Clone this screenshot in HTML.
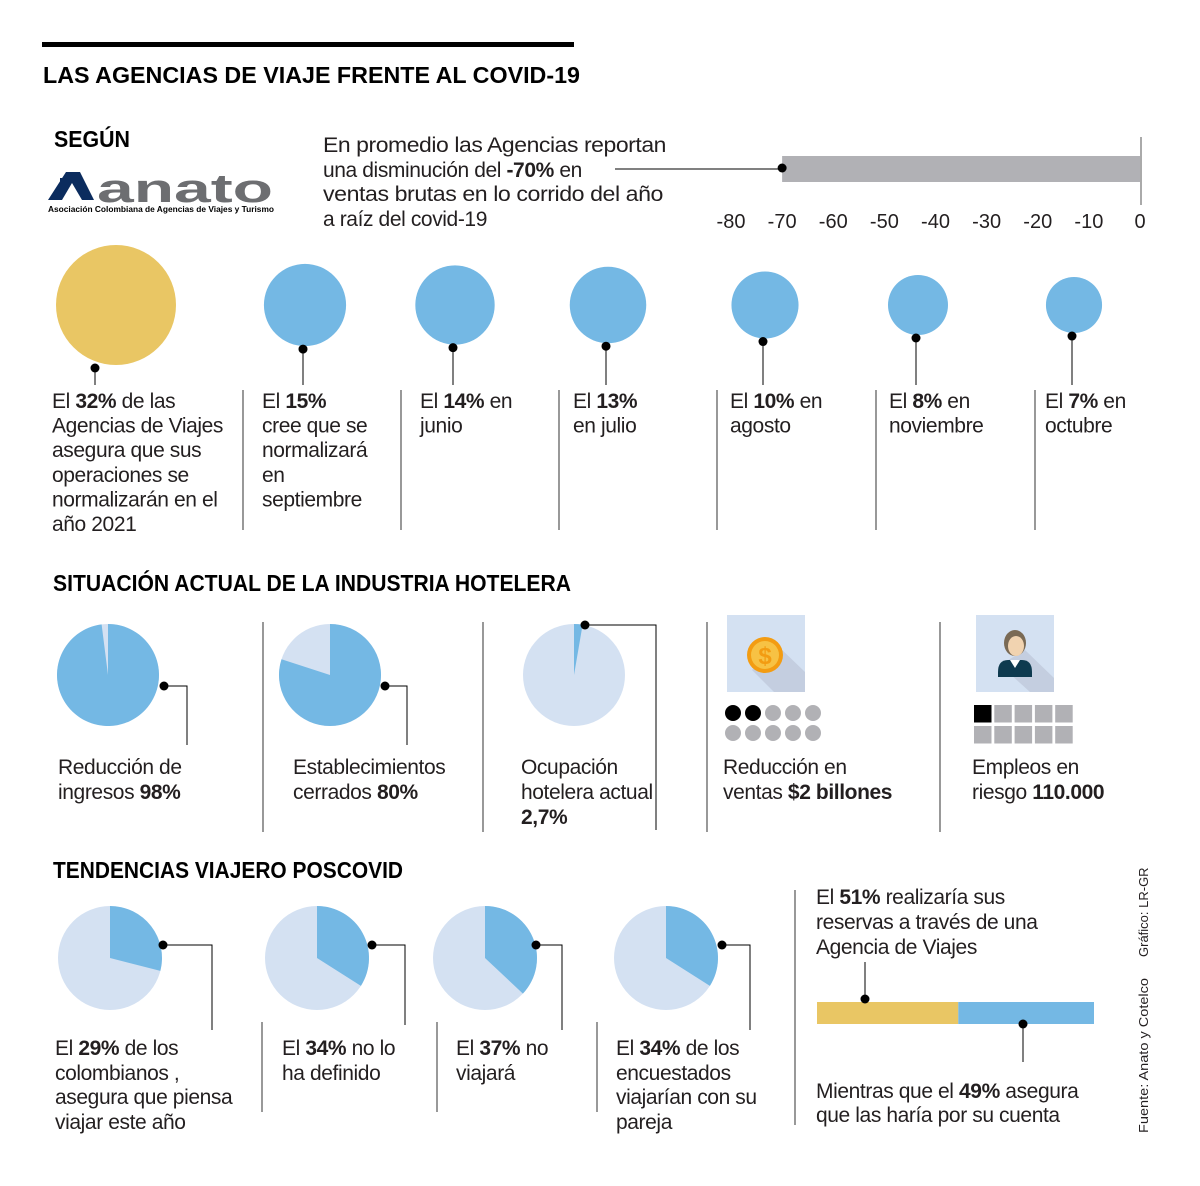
<!DOCTYPE html>
<html><head><meta charset="utf-8">
<style>
html,body{margin:0;padding:0;background:#fff;}
svg{display:block;font-family:"Liberation Sans",sans-serif;}
.t{font-size:21px;fill:#231f20;letter-spacing:-0.4px;}
.h{font-size:23px;font-weight:bold;fill:#000;}
.tk{font-size:20px;fill:#231f20;}
</style></head>
<body>
<svg id="chart" width="1200" height="1186" viewBox="0 0 1200 1186">
<rect x="42" y="42" width="532" height="5" fill="#000"/>
<text x="43" y="83" class="h" textLength="537" lengthAdjust="spacingAndGlyphs">LAS AGENCIAS DE VIAJE FRENTE AL COVID-19</text>
<text x="54" y="147" class="h" textLength="76" lengthAdjust="spacingAndGlyphs">SEGÚN</text>
<g>
<polygon points="48,200 66,172 80,172 94,200 82,200 72,183 62,200" fill="#0b2c5e"/>
<rect x="60" y="178" width="8" height="5" fill="#0b2c5e"/>
<text x="97" y="202" font-size="40" font-weight="bold" fill="#6d6e71" textLength="176" lengthAdjust="spacingAndGlyphs">anato</text>
<text x="48" y="212" font-size="8" font-weight="bold" fill="#000" textLength="226" lengthAdjust="spacingAndGlyphs">Asociación Colombiana de Agencias de Viajes y Turismo</text>
</g>
<g>
<text x="323" y="152" class="t" textLength="343" lengthAdjust="spacingAndGlyphs">En promedio las Agencias reportan</text>
<text x="323" y="177" class="t">una disminución del <tspan font-weight="bold">-70%</tspan> en</text>
<text x="323" y="201" class="t" textLength="340" lengthAdjust="spacingAndGlyphs">ventas brutas en lo corrido del año</text>
<text x="323" y="226" class="t">a raíz del covid-19</text>
</g>
<g id="barChart"></g>
<g id="circles"></g>
<text x="53" y="591" class="h" textLength="518" lengthAdjust="spacingAndGlyphs">SITUACIÓN ACTUAL DE LA INDUSTRIA HOTELERA</text>
<g id="hotelPies"></g>
<g stroke="#555" stroke-width="1.2">
<line x1="263" y1="622" x2="263" y2="832"/><line x1="483" y1="622" x2="483" y2="832"/>
<line x1="707" y1="622" x2="707" y2="832"/><line x1="940" y1="622" x2="940" y2="832"/>
</g>
<g>
<rect x="727" y="615" width="78" height="77" fill="#d4e1f2"/>
<polygon points="752,670 777,645 805,672 805,692 774,692" fill="#c4cee0"/>
<circle cx="765" cy="655" r="18" fill="#f39c12"/><circle cx="765" cy="655" r="14" fill="#f7c244"/>
<text x="765" y="664" font-size="24" font-weight="bold" fill="#f39c12" text-anchor="middle">$</text>
</g>
<g id="moneyDots"></g>
<g>
<rect x="976" y="615" width="78" height="77" fill="#d4e1f2"/>
<polygon points="1025,650 1054,678 1054,692 1030,692 1000,665" fill="#c4cee0"/>
<path d="M998,672 q0,-12 10,-12 h14 q10,0 10,12 v5 h-34z" fill="#0e3a4f"/>
<ellipse cx="1015" cy="643" rx="11" ry="13" fill="#7a6a55"/>
<ellipse cx="1016" cy="646" rx="8" ry="10" fill="#f1d3b0"/>
<polygon points="1010,660 1015,668 1020,660" fill="#fff"/>
</g>
<g id="jobSquares"></g>
<g>
<text x="58" y="774" class="t">Reducción de</text><text x="58" y="799" class="t">ingresos <tspan font-weight="bold">98%</tspan></text>
<text x="293" y="774" class="t">Establecimientos</text><text x="293" y="799" class="t">cerrados <tspan font-weight="bold">80%</tspan></text>
<text x="521" y="774" class="t">Ocupación</text><text x="521" y="799" class="t">hotelera actual</text><text x="521" y="824" class="t" font-weight="bold">2,7%</text>
<text x="723" y="774" class="t">Reducción en</text><text x="723" y="799" class="t">ventas <tspan font-weight="bold">$2 billones</tspan></text>
<text x="972" y="774" class="t">Empleos en</text><text x="972" y="799" class="t">riesgo <tspan font-weight="bold">110.000</tspan></text>
</g>
<text x="53" y="878" class="h" textLength="350" lengthAdjust="spacingAndGlyphs">TENDENCIAS VIAJERO POSCOVID</text>
<g id="travelPies"></g>
<g stroke="#555" stroke-width="1.2">
<line x1="262" y1="1022" x2="262" y2="1112"/><line x1="437" y1="1022" x2="437" y2="1112"/>
<line x1="597" y1="1022" x2="597" y2="1112"/><line x1="795" y1="890" x2="795" y2="1125"/>
</g>
<g>
<text x="55" y="1055" class="t">El <tspan font-weight="bold">29%</tspan> de los</text><text x="55" y="1080" class="t">colombianos ,</text><text x="55" y="1104" class="t">asegura que piensa</text><text x="55" y="1129" class="t">viajar este año</text>
<text x="282" y="1055" class="t">El <tspan font-weight="bold">34%</tspan> no lo</text><text x="282" y="1080" class="t">ha definido</text>
<text x="456" y="1055" class="t">El <tspan font-weight="bold">37%</tspan> no</text><text x="456" y="1080" class="t">viajará</text>
<text x="616" y="1055" class="t">El <tspan font-weight="bold">34%</tspan> de los</text><text x="616" y="1080" class="t">encuestados</text><text x="616" y="1104" class="t">viajarían con su</text><text x="616" y="1129" class="t">pareja</text>
<text x="816" y="904" class="t">El <tspan font-weight="bold">51%</tspan> realizaría sus</text><text x="816" y="929" class="t">reservas a través de una</text><text x="816" y="954" class="t">Agencia de Viajes</text>
<text x="816" y="1098" class="t">Mientras que el <tspan font-weight="bold">49%</tspan> asegura</text><text x="816" y="1122" class="t">que las haría por su cuenta</text>
</g>
<g id="stackBar"></g>
<text transform="translate(1148,957) rotate(-90)" font-size="13" fill="#231f20">Gráfico: LR-GR</text>
<text transform="translate(1148,1133) rotate(-90)" font-size="13" fill="#231f20" textLength="155" lengthAdjust="spacingAndGlyphs">Fuente: Anato y Cotelco</text>
</svg>
<script>
const NS="http://www.w3.org/2000/svg";
const salesValue=[-70];
const salesTicks=[-80,-70,-60,-50,-40,-30,-20,-10,0];
const circlePct=[32,15,14,13,10,8,7];
const circleLabels=[
 ["El |32%| de las","Agencias de Viajes","asegura que sus","operaciones se","normalizarán en el","año 2021"],
 ["El |15%|","cree que se","normalizará","en","septiembre"],
 ["El |14%| en","junio"],["El |13%|","en julio"],["El |10%| en","agosto"],
 ["El |8%| en","noviembre"],["El |7%| en","octubre"]];
const hotelPct=[98,80,2.7];
const travelPct=[29,34,37,34];
const bookingPct=[51,49];
const moneyDotsFilled=[2];const moneyDotsTotal=[10];
const jobFilled=[1];const jobTotal=[10];

function mk(tag,attrs,parent){const e=document.createElementNS(NS,tag);for(const k in attrs)e.setAttribute(k,attrs[k]);parent.appendChild(e);return e;}
const DARK="#74b8e4",LIGHT="#d4e1f2";

const bc=document.getElementById('barChart');
const xS=v=>1140+(v/80)*409;
salesValue.forEach(v=>{
 const r=mk('rect',{x:xS(v),y:156,width:xS(0)-xS(v),height:26,fill:'#b1b1b5'},bc);
 
 
 mk('line',{x1:615,y1:169,x2:xS(v),y2:169,stroke:'#000','stroke-width':1},bc);
 const d=mk('circle',{cx:xS(v),cy:168,r:4.5,fill:'#000'},bc);
 
 
});
mk('line',{x1:1141,y1:137,x2:1141,y2:205,stroke:'#555','stroke-width':1},bc);
salesTicks.forEach(t=>{
 const tx=mk('text',{x:xS(t),y:228,'text-anchor':'middle',class:'tk'},bc);tx.textContent=t;
 
 
});

const cg=document.getElementById('circles');
const cx0=[116,305,455,608,765,918,1074];
const tx0=[52,262,420,573,730,889,1045];
const seps=[243,401,559,717,876,1035];
seps.forEach(x=>{const l=mk('line',{x1:x,y1:390,x2:x,y2:530,stroke:'#555','stroke-width':1.2},cg);
 });
circlePct.forEach((p,i)=>{
 const r=60*Math.sqrt(p/32);
 const c=mk('circle',{cx:cx0[i],cy:305,r:r,fill:i==0?'#e9c664':DARK},cg);
 
 
 const dy=305+r+3;
 mk('line',{x1:cx0[i]-(i==0?21:2),y1:dy,x2:cx0[i]-(i==0?21:2),y2:385,stroke:'#000','stroke-width':1},cg);
 mk('circle',{cx:cx0[i]-(i==0?21:2),cy:dy,r:4.5,fill:'#000'},cg);
 circleLabels[i].forEach((ln,j)=>{
  const t=mk('text',{x:tx0[i],y:408+j*24.6,class:'t'},cg);
  
  
  ln.split('|').forEach((s,k)=>{const ts=mk('tspan',k%2?{'font-weight':'bold'}:{},t);ts.textContent=s;});
 });
});

function pie(g,cx,cy,r,p){
 mk('circle',{cx,cy,r,fill:LIGHT},g);
 const a=2*Math.PI*p/100;
 const x=cx+r*Math.sin(a),y=cy-r*Math.cos(a);
 const s=mk('path',{d:`M${cx},${cy} L${cx},${cy-r} A${r},${r} 0 ${p>50?1:0} 1 ${x},${y} Z`,fill:DARK},g);
 
 
}
function leader(g,pts){
 mk('polyline',{points:pts.map(p=>p.join(',')).join(' '),fill:'none',stroke:'#000','stroke-width':1},g);
 mk('circle',{cx:pts[0][0],cy:pts[0][1],r:4.5,fill:'#000'},g);
}
const hp=document.getElementById('hotelPies');
const hc=[108,330,574];
hotelPct.forEach((p,i)=>pie(hp,hc[i],675,51,p));
leader(hp,[[164,686],[187,686],[187,745]]);
leader(hp,[[385,686],[407,686],[407,745]]);
leader(hp,[[585,625],[656,625],[656,830]]);

const tp=document.getElementById('travelPies');
const tc=[110,317,485,666];
travelPct.forEach((p,i)=>pie(tp,tc[i],958,52,p));
leader(tp,[[163,945],[212,945],[212,1030]]);
leader(tp,[[372,945],[405,945],[405,1025]]);
leader(tp,[[536,945],[562,945],[562,1030]]);
leader(tp,[[722,945],[750,945],[750,1030]]);

const sb=document.getElementById('stackBar');
const bx=817,bw=277;
let acc=0;
bookingPct.forEach((p,i)=>{
 const w=bw*p/100;
 const r=mk('rect',{x:bx+bw*acc/100,y:1002,width:w,height:22,fill:i==0?'#e9c664':DARK},sb);
 
 
 acc+=p;
});
mk('line',{x1:865,y1:999,x2:865,y2:962,stroke:'#000','stroke-width':1},sb);
mk('circle',{cx:865,cy:999,r:4.5,fill:'#000'},sb);
mk('line',{x1:1023,y1:1024,x2:1023,y2:1062,stroke:'#000','stroke-width':1},sb);
mk('circle',{cx:1023,cy:1024,r:4.5,fill:'#000'},sb);

const md=document.getElementById('moneyDots');
for(let i=0;i<moneyDotsTotal[0];i++){
 const c=mk('circle',{cx:733+(i%5)*20,cy:713+Math.floor(i/5)*20,r:8,fill:i<moneyDotsFilled[0]?'#000':'#b1b1b5'},md);
 
 
}
const js=document.getElementById('jobSquares');
for(let i=0;i<jobTotal[0];i++){
 const r=mk('rect',{x:974+(i%5)*20.3,y:705+Math.floor(i/5)*21,width:17.5,height:17.5,fill:i<jobFilled[0]?'#000':'#b1b1b5'},js);
 
 
}
</script>
</body></html>
